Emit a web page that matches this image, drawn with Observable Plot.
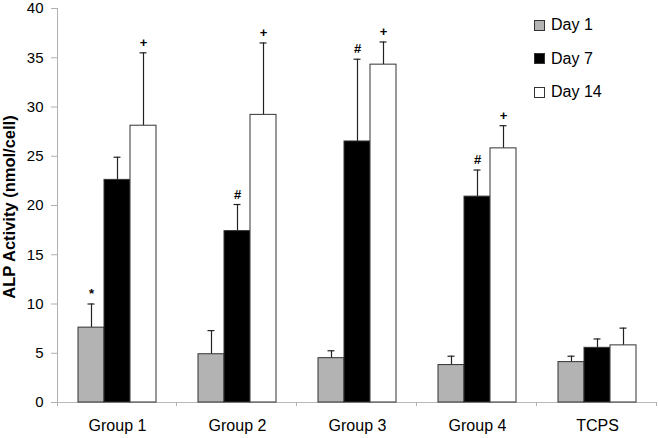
<!DOCTYPE html>
<html>
<head>
<meta charset="utf-8">
<script src="https://cdn.jsdelivr.net/npm/d3@7"></script>
<script src="https://cdn.jsdelivr.net/npm/@observablehq/plot@0.6"></script>
<style>
  html, body { margin: 0; padding: 0; background: #fff; }
  #wrap { position: relative; width: 658px; height: 438px; font-family: "Liberation Sans", Arial, sans-serif; }
  #ytitle { position: absolute; left: 9px; top: 207px; transform: translate(-50%, -50%) rotate(-90deg); white-space: nowrap; font-weight: bold; font-size: 16.5px; color: #000; }
  .leg { position: absolute; left: 534px; height: 18px; display: flex; align-items: center; font-size: 16px; color: #000; }
  .sw { width: 9px; height: 9px; border: 1px solid #333; margin-right: 6px; }
</style>
</head>
<body>
<div id="wrap"></div>
<script>
const groups = ["Group 1", "Group 2", "Group 3", "Group 4", "TCPS"];
const days = ["Day 1", "Day 7", "Day 14"];
const dayColors = ["#b3b3b3", "#000000", "#ffffff"];

const day1 = [7.6, 4.9, 4.5, 3.8, 4.1];
const day1Err = [2.4, 2.4, 0.75, 0.9, 0.6];
const day7 = [22.6, 17.4, 26.5, 20.9, 5.55];
const day7Err = [2.3, 2.7, 8.35, 2.7, 0.9];
const day14 = [28.1, 29.2, 34.3, 25.8, 5.8];
const day14Err = [7.4, 7.3, 2.3, 2.3, 1.75];

const day1Marks = ["*", "", "", "", ""];
const day7Marks = ["", "#", "#", "#", ""];
const day14Marks = ["+", "+", "+", "+", ""];

const yTicks = [0, 5, 10, 15, 20, 25, 30, 35, 40];
const yLabel = "ALP Activity (nmol/cell)";

const series = [
  {day: days[0], vals: day1, errs: day1Err, marks: day1Marks},
  {day: days[1], vals: day7, errs: day7Err, marks: day7Marks},
  {day: days[2], vals: day14, errs: day14Err, marks: day14Marks}
];
const data = [];
groups.forEach((g, i) => {
  series.forEach(s => {
    data.push({group: g, day: s.day, value: s.vals[i], upper: s.vals[i] + s.errs[i], mark: s.marks[i]});
  });
});
const annots = data.filter(d => d.mark !== "");

const chart = Plot.plot({
  width: 658,
  height: 438,
  marginLeft: 57,
  marginRight: 1,
  marginTop: 8,
  marginBottom: 36,
  style: {fontFamily: '"Liberation Sans", Arial, sans-serif', background: "#fff", color: "#000"},
  fx: {domain: groups, padding: 0, label: null},
  x: {domain: days, paddingInner: 0, paddingOuter: 0.75, axis: null},
  y: {domain: [0, 40], label: null},
  color: {domain: days, range: dayColors},
  marks: [
    Plot.axisY({ticks: yTicks, tickSize: 6, tickPadding: 8, stroke: "#b0b0b0", fill: "#000", fontSize: 15, label: null}),
    Plot.axisFx({anchor: "bottom", tickSize: 0, tickPadding: 17, fontSize: 16, label: null}),
    Plot.ruleY([0], {stroke: "#b8b8b8"}),
    Plot.ruleX(data, {fx: "group", x: "day", y1: "value", y2: "upper", stroke: "#222", strokeWidth: 1.2}),
    Plot.tickY(data, {fx: "group", x: "day", y: "upper", stroke: "#222", strokeWidth: 1.2, insetLeft: 9.5, insetRight: 9.5}),
    Plot.barY(data, {fx: "group", x: "day", y: "value", fill: "day", stroke: "#333", strokeWidth: 1}),
    Plot.text(annots, {fx: "group", x: "day", y: "upper", text: "mark", dy: -6, lineAnchor: "bottom", fontSize: 13, fontWeight: "bold", fill: "#000"})
  ]
});

const wrap = document.getElementById("wrap");
wrap.appendChild(chart);

// axis lines and group separator ticks, from Plot's scales
const fx = chart.scale("fx");
const y = chart.scale("y");
const svg = d3.select(chart);
const y0 = y.apply(0), yTop = y.apply(40);
const bounds = groups.map(g => fx.apply(g)).concat([fx.apply(groups[groups.length - 1]) + fx.bandwidth]);
const g = svg.append("g").attr("stroke", "#b0b0b0").attr("stroke-width", 1);
g.append("line").attr("x1", bounds[0] + 0.5).attr("x2", bounds[0] + 0.5).attr("y1", yTop).attr("y2", y0 + 4);
g.selectAll("line.sep").data(bounds.slice(1)).join("line").attr("class", "sep")
  .attr("x1", d => d - 0.5).attr("x2", d => d - 0.5).attr("y1", y0).attr("y2", y0 + 4);

// y title
const t = document.createElement("div");
t.id = "ytitle";
t.textContent = yLabel;
wrap.appendChild(t);

// legend
days.forEach((d, i) => {
  const row = document.createElement("div");
  row.className = "leg";
  row.style.top = (16 + i * 33.6) + "px";
  const sw = document.createElement("div");
  sw.className = "sw";
  sw.style.background = dayColors[i];
  const lab = document.createElement("span");
  lab.textContent = d;
  row.appendChild(sw);
  row.appendChild(lab);
  wrap.appendChild(row);
});
</script>
</body>
</html>
